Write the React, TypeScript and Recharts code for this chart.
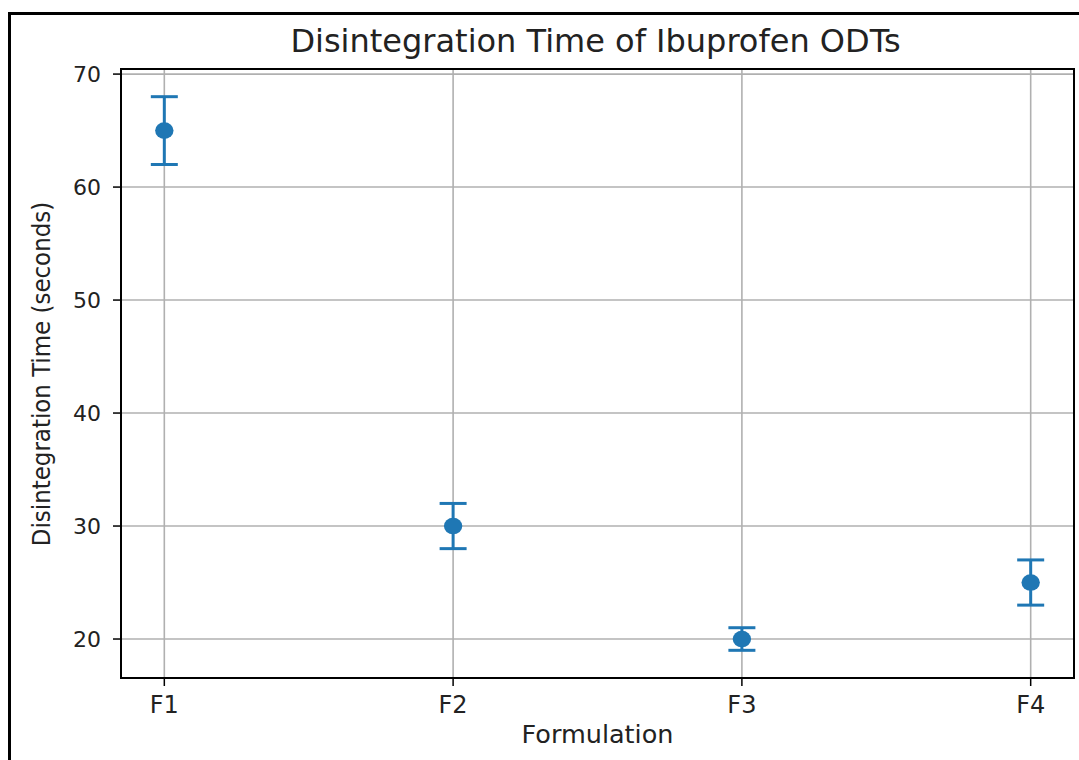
import { CartesianGrid, ErrorBar, ReferenceArea, Scatter, ScatterChart, XAxis, YAxis } from 'recharts';

const formulations = ['F1', 'F2', 'F3', 'F4'];
const meanTimes = [65, 30, 20, 25];
const sdTimes = [3, 2, 1, 2];
const yTicks = [20, 30, 40, 50, 60, 70];

const BLUE = '#1f77b4';
const FONT = '"DejaVu Sans", sans-serif';

const data = formulations.map((f, i) => ({ x: i, name: f, time: meanTimes[i], sd: sdTimes[i] }));

// the source image is a little wider than tall, so markers come out as slight ellipses
const dot = (p: any) => <ellipse cx={p.cx} cy={p.cy} rx={9.2} ry={8.3} fill={BLUE} />;

export default function App() {
  return (
    <div style={{ position: 'fixed', left: 0, top: 0, width: 1079, height: 760, overflow: 'hidden', background: '#fff' }}>
      <div style={{ position: 'absolute', left: 8, top: 12, width: 1200, height: 900, borderTop: '3px solid #000', borderLeft: '3px solid #000' }} />
      <div style={{ position: 'absolute', left: 0, top: 0 }}>
        <ScatterChart width={1079} height={760} margin={{ top: 69, right: 5, left: 0, bottom: 0 }}>
          <CartesianGrid stroke="#b0b0b0" strokeWidth={1.6} />
          <XAxis
            dataKey="x"
            type="number"
            domain={[-0.15, 3.15]}
            ticks={[0, 1, 2, 3]}
            tickFormatter={(v: number) => formulations[v]}
            height={82}
            tickSize={8}
            tickMargin={10}
            axisLine={{ stroke: '#000', strokeWidth: 2 }}
            tickLine={{ stroke: '#000', strokeWidth: 1.5 }}
            tick={{ fill: '#222', fontSize: 24, fontFamily: FONT }}
            allowDataOverflow
          />
          <YAxis
            dataKey="time"
            type="number"
            domain={[16.55, 70.45]}
            ticks={yTicks}
            width={121}
            tickSize={8}
            tickMargin={12}
            axisLine={{ stroke: '#000', strokeWidth: 2 }}
            tickLine={{ stroke: '#000', strokeWidth: 1.5 }}
            tick={{ fill: '#222', fontSize: 22, fontFamily: FONT }}
            allowDataOverflow
          />
          <ReferenceArea x1={-0.15} x2={3.15} y1={16.55} y2={70.45} fill="none" stroke="#000" strokeWidth={2} fillOpacity={0} />
          <Scatter data={data} fill={BLUE} shape={dot} isAnimationActive={false}>
            <ErrorBar dataKey="sd" direction="y" width={13.5} stroke={BLUE} strokeWidth={3} />
          </Scatter>
        </ScatterChart>
      </div>
      <div style={{ position: 'absolute', left: 0, width: 1191, top: 22, textAlign: 'center', fontFamily: FONT, fontSize: 32, color: '#222', whiteSpace: 'nowrap' }}>
        Disintegration Time of Ibuprofen ODTs
      </div>
      <div style={{ position: 'absolute', left: 0, width: 1195, top: 719, textAlign: 'center', fontFamily: FONT, fontSize: 25.5, color: '#222', whiteSpace: 'nowrap' }}>
        Formulation
      </div>
      <div
        style={{
          position: 'absolute',
          left: 41,
          top: 374,
          transform: 'translate(-50%, -50%) rotate(-90deg)',
          fontFamily: '"DejaVu Sans Condensed", "DejaVu Sans", sans-serif',
          fontStretch: 'condensed',
          fontSize: 25.5,
          color: '#222',
          whiteSpace: 'nowrap',
        }}
      >
        Disintegration Time (seconds)
      </div>
    </div>
  );
}
